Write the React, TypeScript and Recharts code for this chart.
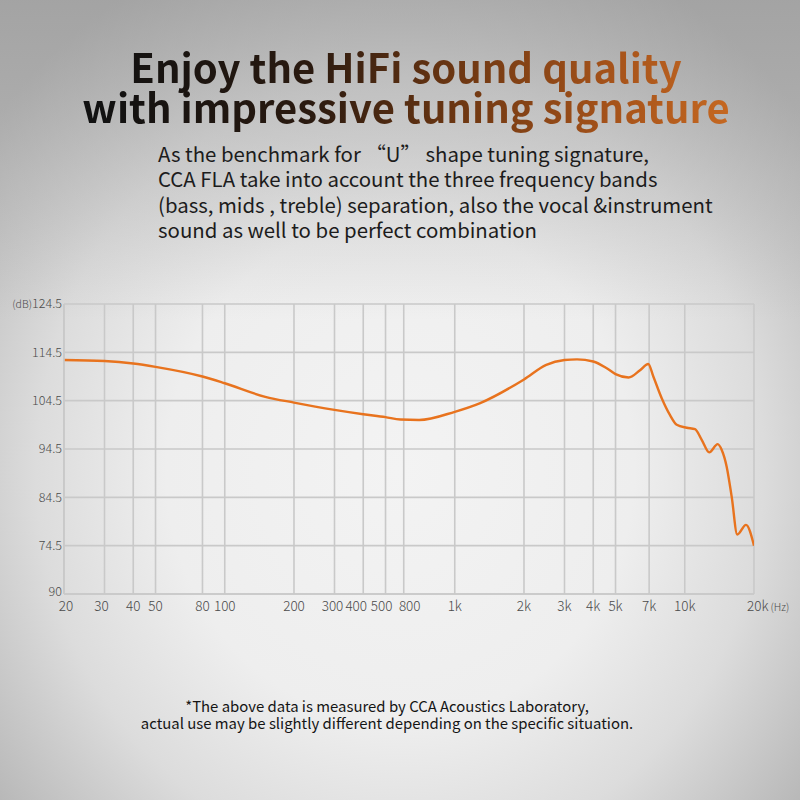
import React from "react";
import { LineChart, Line, XAxis, YAxis, CartesianGrid } from "recharts";

// Frequency response (Hz, dB)
const freqs = [20, 30, 40, 50, 80, 100, 150, 200, 300, 400, 500, 580, 700, 1000, 1290, 2000, 2500, 3000, 3400, 4000, 4580, 5000, 5700, 6390, 6940, 7300, 7940, 8630, 9230, 10200, 11080, 11850, 12780, 13900, 14480, 15220, 16000, 16920, 18460, 20000];
const levels = [112.9, 112.7, 112.2, 111.5, 109.5, 108.1, 105.3, 104.1, 102.6, 101.7, 101.1, 100.6, 100.5, 102.2, 104.0, 108.9, 111.9, 112.9, 113.05, 112.6, 111.2, 110.0, 109.3, 110.8, 112.1, 109.5, 105.0, 101.5, 99.5, 98.9, 98.6, 96.4, 93.8, 95.5, 94.3, 90.8, 84.6, 76.8, 78.8, 74.5];

const xTicks = [20, 30, 40, 50, 80, 100, 200, 300, 400, 500, 600, 1000, 2000, 3000, 4000, 5000, 7000, 10000, 20000];
const xTickLabels = ["20", "30", "40", "50", "80", "100", "200", "300", "400", "500", "800", "1k", "2k", "3k", "4k", "5k", "7k", "10k", "20k"];
const yTicks = [64.5, 74.5, 84.5, 94.5, 104.5, 114.5, 124.5];
const yTickLabels = ["90", "74.5", "84.5", "94.5", "104.5", "114.5", "124.5"];

const data = freqs.map((f, i) => ({ f, db: levels[i] }));

const FONT = "'Noto Sans CJK SC', 'Noto Sans', sans-serif";
const TICK_COLOR = "#4a4a4a";

// small horizontal nudges of crowded tick labels (styling only)
const labelNudge: Record<number, number> = { 20: 2, 30: -3, 300: -2, 400: -7, 500: -4, 600: 6 };

const XTick = (props: any) => {
  const { x, y, payload } = props;
  const idx = xTicks.indexOf(payload.value);
  const label = idx >= 0 ? xTickLabels[idx] : String(payload.value);
  if (payload.value === 20000) {
    return (
      <text x={x - 7} y={y} dy="0.71em" textAnchor="start" fill={TICK_COLOR} fontSize={13.5} fontFamily={FONT} fontWeight={300}>
        {label}
        <tspan fontSize={10.5} dx={2}>(Hz)</tspan>
      </text>
    );
  }
  const dx = labelNudge[payload.value] || 0;
  return (
    <text x={x + dx} y={y} dy="0.71em" textAnchor="middle" fill={TICK_COLOR} fontSize={13.5} fontFamily={FONT} fontWeight={300}>
      {label}
    </text>
  );
};

const YTick = (props: any) => {
  const { x, y, payload } = props;
  const idx = yTicks.indexOf(payload.value);
  const label = idx >= 0 ? yTickLabels[idx] : String(payload.value);
  return (
    <g>
      {payload.value === 124.5 && (
        <text x={x - 30} y={y} dy="0.35em" textAnchor="end" fill={TICK_COLOR} fontSize={10.5} fontFamily={FONT} fontWeight={300}>
          (dB)
        </text>
      )}
      <text x={x} y={payload.value === 64.5 ? y - 2 : y} dy="0.35em" textAnchor="end" fill={TICK_COLOR} fontSize={12.5} fontFamily={FONT} fontWeight={300}>
        {label}
      </text>
    </g>
  );
};

export default function App() {
  return (
    <div
      style={{
        position: "absolute",
        left: 0,
        top: 0,
        width: 800,
        height: 800,
        overflow: "hidden",
        background:
          "radial-gradient(ellipse 520px 560px at 400px 470px, #f3f3f3 0%, #eeeeee 45%, #dcdcdc 70%, #b4b4b4 100%)",
        backgroundColor: "#a8a8a8",
      }}
    >
      <div
        style={{
          position: "absolute",
          left: 0,
          top: 0,
          width: 800,
          height: 800,
          background:
            "linear-gradient(180deg, rgba(150,150,150,0.55) 0%, rgba(170,170,170,0.35) 22%, rgba(200,200,200,0) 40%)",
        }}
      />
      <div
        style={{
          position: "absolute",
          left: 6,
          top: 46,
          width: 800,
          paddingBottom: 10,
          textAlign: "center",
          fontFamily: FONT,
          fontWeight: 700,
          fontSize: 40,
          lineHeight: "40px",
          background:
            "linear-gradient(90deg, #111111 12%, #2a1a10 38%, #6b3612 56%, #a4521a 75%, #c86a22 92%)",
          WebkitBackgroundClip: "text",
          backgroundClip: "text",
          color: "transparent",
        }}
      >
        Enjoy the HiFi sound quality
        <br />
        with impressive tuning signature
      </div>
      <div
        style={{
          position: "absolute",
          left: 158,
          top: 141,
          width: 640,
          fontFamily: FONT,
          fontWeight: 400,
          fontSize: 20.4,
          lineHeight: "25.3px",
          color: "#1c1c1c",
          whiteSpace: "pre",
        }}
      >
        {"As the benchmark for “U” shape tuning signature,\nCCA FLA take into account the three frequency bands\n(bass, mids , treble) separation, also the vocal &instrument\nsound as well to be perfect combination"}
      </div>
      <div style={{ position: "absolute", left: 0, top: 0 }}>
        <LineChart width={800} height={800} data={data} margin={{ top: 304, right: 46, bottom: 176, left: 4 }}>
          <CartesianGrid stroke="#c9c9c9" strokeWidth={1.6} />
          <XAxis
            dataKey="f"
            type="number"
            scale="log"
            domain={[20, 20000]}
            ticks={xTicks}
            interval={0}
            height={30}
            tickSize={0}
            tickMargin={7}
            axisLine={{ stroke: "#c9c9c9", strokeWidth: 1.6 }}
            tick={<XTick />}
            allowDataOverflow
          />
          <YAxis
            type="number"
            domain={[64.5, 124.5]}
            ticks={yTicks}
            interval={0}
            width={60}
            tickSize={0}
            tickMargin={2}
            axisLine={{ stroke: "#c9c9c9", strokeWidth: 1.6 }}
            tick={<YTick />}
            allowDataOverflow
          />
          <Line
            dataKey="db"
            type="monotone"
            stroke="#e8731e"
            strokeWidth={2.4}
            dot={false}
            isAnimationActive={false}
          />
        </LineChart>
      </div>
      <div
        style={{
          position: "absolute",
          left: 0,
          top: 697,
          width: 774,
          textAlign: "center",
          fontFamily: FONT,
          fontSize: 14.9,
          lineHeight: "17px",
          color: "#151515",
        }}
      >
        *The above data is measured by CCA Acoustics Laboratory,
        <br />
        actual use may be slightly different depending on the specific situation.
      </div>
    </div>
  );
}
